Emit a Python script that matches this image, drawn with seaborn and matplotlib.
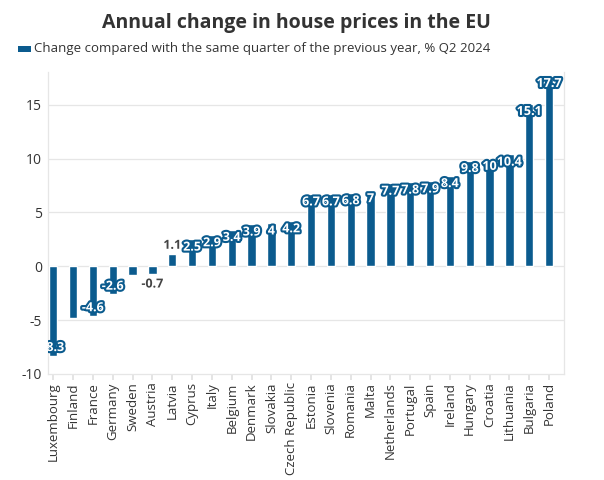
import matplotlib
matplotlib.use("Agg")
import matplotlib.pyplot as plt
import matplotlib.patheffects as pe
import seaborn as sns
import pandas as pd

countries = ["Luxembourg", "Finland", "France", "Germany", "Sweden", "Austria", "Latvia",
             "Cyprus", "Italy", "Belgium", "Denmark", "Slovakia", "Czech Republic", "Estonia",
             "Slovenia", "Romania", "Malta", "Netherlands", "Portugal", "Spain", "Ireland",
             "Hungary", "Croatia", "Lithuania", "Bulgaria", "Poland"]
values = [-8.3, -4.8, -4.6, -2.6, -0.8, -0.7, 1.1, 2.5, 2.9, 3.4, 3.9, 4.0, 4.2, 6.7,
          6.7, 6.8, 7.0, 7.7, 7.8, 7.9, 8.4, 9.8, 10.0, 10.4, 15.1, 17.7]
labels = ["-8.3", "", "-4.6", "-2.6", "", "-0.7", "1.1", "2.5", "2.9", "3.4", "3.9", "4",
          "4.2", "6.7", "6.7", "6.8", "7", "7.7", "7.8", "7.9", "8.4", "9.8", "10", "10.4",
          "15.1", "17.7"]
outside = ["Latvia", "Austria"]
series_name = "Change compared with the same quarter of the previous year, % Q2 2024"
title = "Annual change in house prices in the EU"

BAR = "#0b5b8e"
TXT = "#333333"

sns.set_theme(style="white")
plt.rcParams["font.family"] = ["Open Sans", "DejaVu Sans"]

df = pd.DataFrame({"country": countries, "value": values})

fig = plt.figure(figsize=(6.04, 4.8), dpi=100)
ax = fig.add_axes([0.079, 0.221, 0.854, 0.628])
sns.barplot(data=df, x="country", y="value", color=BAR, width=0.42, saturation=1,
            ax=ax, zorder=3)

ax.set_ylim(-10, 18)
ax.set_xlim(-0.28, len(countries) - 1 + 0.73)
ax.set_yticks([-10, -5, 0, 5, 10, 15])
ax.set_yticklabels(["-10", "-5", "0", "5", "10", "15"], fontsize=10, color=TXT)
ax.set_xticks(range(len(countries)))
ax.set_xticklabels(countries, rotation=90, fontsize=9.5, color=TXT)
ax.set_xlabel("")
ax.set_ylabel("")
for y in [-5, 0, 5, 10, 15]:
    ax.axhline(y, color="#e6e6e6", lw=0.9, zorder=1)
for s in ax.spines.values():
    s.set_color("#e6e6e6")
    s.set_linewidth(0.9)
ax.spines["top"].set_visible(False)
ax.tick_params(axis="x", length=4, color="#e0e0e0", pad=2, bottom=True)
ax.tick_params(axis="y", length=0, pad=4)

for i, (c, v, lab) in enumerate(zip(countries, values, labels)):
    if not lab:
        continue
    if c in outside:
        y = v + (0.85 if v > 0 else -0.95)
        ax.text(i, y, lab, ha="center", va="center", fontsize=9, fontweight="bold",
                color="#444444", zorder=5,
                path_effects=[pe.withStroke(linewidth=2.5, foreground="white")])
    else:
        y = v - (0.72 if v > 0 else -0.75)
        ax.text(i, y, lab, ha="center", va="center", fontsize=9, fontweight="bold",
                color="white", zorder=5, clip_on=True,
                path_effects=[pe.withStroke(linewidth=3, foreground=BAR)])

fig.text(0.49, 0.953, title, ha="center", va="center", fontsize=14, fontweight="bold",
         color=TXT)
fig.patches.append(plt.Rectangle((0.030, 0.891), 0.022, 0.014, transform=fig.transFigure,
                                 facecolor=BAR, edgecolor="none"))
fig.text(0.056, 0.899, series_name, ha="left", va="center", fontsize=9.5, color=TXT)

fig.savefig("out.png", dpi=100, facecolor="white")
